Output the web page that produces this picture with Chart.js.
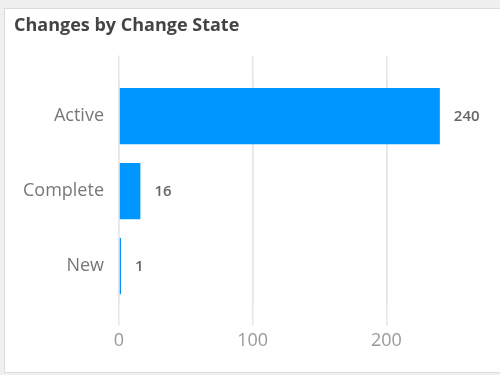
<!DOCTYPE html>
<html>
<head>
<meta charset="utf-8">
<script src="https://cdn.jsdelivr.net/npm/chart.js@4/dist/chart.umd.min.js"></script>
<style>
  html, body { margin: 0; padding: 0; }
  body { width: 500px; height: 375px; background: #f0f0f0; position: relative; overflow: hidden; }
  .card { position: absolute; left: 4px; top: 8px; width: 520px; height: 363px; background: #fff; border: 1px solid #dcdcdc; }
  .wrap { position: absolute; left: 0; top: 0; width: 500px; height: 375px; }
</style>
</head>
<body>
<div class="card"></div>
<div class="wrap"><canvas id="chart"></canvas></div>
<script>
// datos
const estados = ["Active", "Complete", "New"];
const cambios = [240, 16, 1];
const ticksX = [0, 100, 200];

const colorBarra = "#0096ff";
const colorGrid = "#e6e6e6";
const fuente = "'Open Sans', 'Noto Sans', sans-serif";

// etiquetas de valor a la derecha de cada barra
const etiquetasValor = {
  id: "etiquetasValor",
  afterDatasetsDraw(chart) {
    const ctx = chart.ctx;
    const meta = chart.getDatasetMeta(0);
    ctx.save();
    ctx.font = "600 15px " + fuente;
    ctx.fillStyle = "#666";
    ctx.textAlign = "left";
    ctx.textBaseline = "middle";
    meta.data.forEach((bar, i) => {
      ctx.fillText(String(cambios[i]), bar.x + 14, bar.y + 1);
    });
    ctx.restore();
  }
};

const soloTicks = (scale) => {
  scale.ticks = scale.ticks.filter(t => ticksX.includes(t.value));
};

new Chart(document.getElementById("chart"), {
  type: "bar",
  data: {
    labels: estados,
    datasets: [{
      data: cambios,
      backgroundColor: colorBarra,
      borderWidth: 0,
      minBarLength: 2,
      barPercentage: 0.75,
      categoryPercentage: 1
    }]
  },
  options: {
    indexAxis: "y",
    responsive: true,
    maintainAspectRatio: false,
    animation: false,
    layout: { padding: { top: 8, left: 14, right: 0, bottom: 0 } },
    plugins: {
      legend: { display: false },
      tooltip: { enabled: false },
      title: {
        display: true,
        text: "Changes by Change State",
        align: "start",
        color: "#444",
        font: { family: fuente, size: 18, weight: "bold" },
        padding: { top: 7, bottom: 19 }
      }
    },
    scales: {
      x: {
        position: "bottom",
        min: 0,
        max: 285,
        afterBuildTicks: soloTicks,
        afterFit: (scale) => { scale.height = 71.5; },
        border: { display: false },
        grid: { color: colorGrid, lineWidth: 1.5, drawTicks: true, tickLength: 22, tickColor: colorGrid },
        ticks: { stepSize: 100, color: "#999", padding: 5, font: { family: fuente, size: 18 } }
      },
      x2: {
        position: "top",
        min: 0,
        max: 285,
        afterBuildTicks: soloTicks,
        afterFit: (scale) => { scale.height = 23; },
        border: { display: false },
        grid: { color: colorGrid, lineWidth: 1.5, drawTicks: true, tickLength: 23, tickColor: colorGrid },
        ticks: { display: false, stepSize: 100 }
      },
      y: {
        afterFit: (scale) => { scale.width = 105; },
        border: { display: false },
        grid: { display: false, drawTicks: false },
        ticks: { color: "#777", padding: 15, font: { family: fuente, size: 18 } }
      }
    }
  },
  plugins: [etiquetasValor]
});
</script>
</body>
</html>
